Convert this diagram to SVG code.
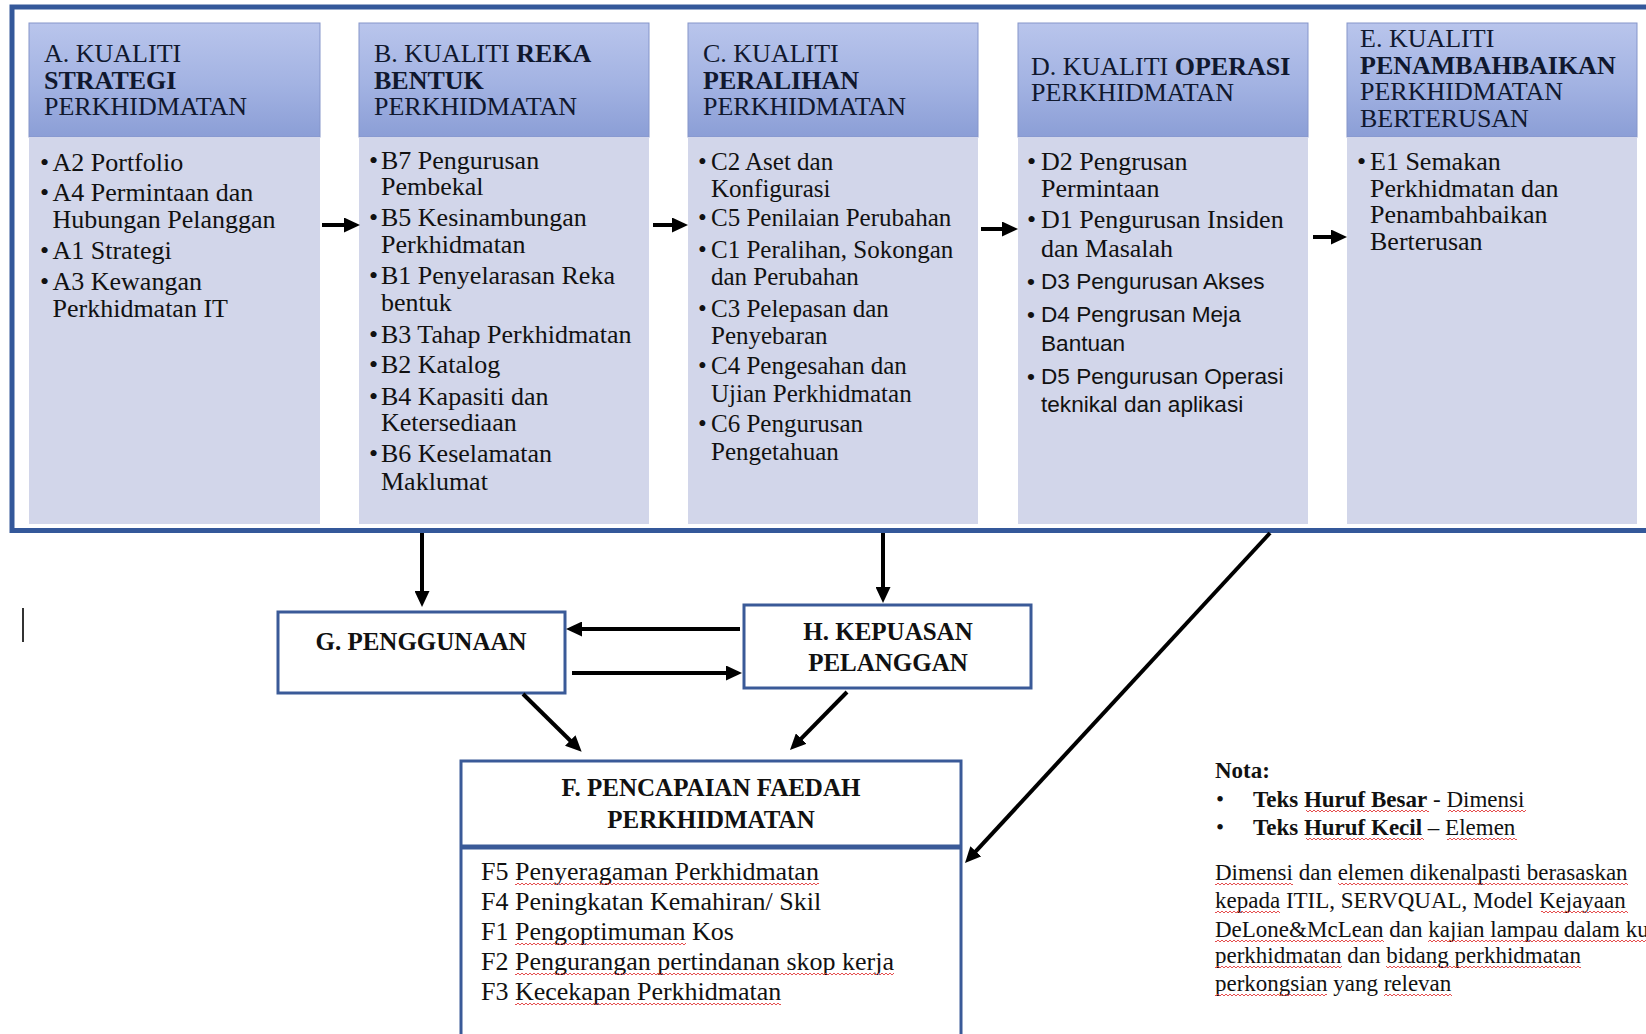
<svg xmlns="http://www.w3.org/2000/svg" width="1646" height="1034" viewBox="0 0 1646 1034">
<defs>
<linearGradient id="hg" x1="0" y1="0" x2="0" y2="1">
<stop offset="0" stop-color="#B9C5EC"/>
<stop offset="0.55" stop-color="#A2B2E2"/>
<stop offset="1" stop-color="#8B9ED6"/>
</linearGradient>
<pattern id="wavy" patternUnits="userSpaceOnUse" width="4" height="4">
<path d="M0,3 L2,1 L4,3" fill="none" stroke="#E23B3B" stroke-width="0.9"/>
</pattern>
<marker id="ah" markerUnits="userSpaceOnUse" markerWidth="16" markerHeight="15" refX="6" refY="7.5" orient="auto">
<path d="M0,0 L16,7.5 L0,15 z" fill="#000"/>
</marker>
<style>
.hdr{fill:url(#hg);stroke:#8595CA;stroke-width:1}
.bd{fill:#D2D6EA}
.t{font-family:"Liberation Serif","Times New Roman",serif;fill:#111}
.h{font-size:26px;fill:#10182E}
.b{font-size:26px}
.c{font-size:25px}
.s{font-family:"Liberation Sans",Arial,sans-serif;font-size:22.6px;fill:#111}
.bo{font-weight:bold}
.box{fill:#fff;stroke:#3A5A98;stroke-width:3}
.cn{stroke:#000;stroke-width:4;fill:none;marker-end:url(#ah)}
.bt{font-size:25px;font-weight:bold;text-anchor:middle}
.f{font-size:26px}
.n{font-size:23px}
.w{fill:url(#wavy)}
</style>
</defs>
<rect width="1646" height="1034" fill="#fff"/>

<g id="frame">
<rect x="12" y="7" width="1700" height="523.5" fill="#fff" stroke="#34589A" stroke-width="5"/>
</g>

<g id="node-a">
<rect class="hdr" x="29" y="23" width="291" height="114"/>
<rect class="bd" x="29" y="137" width="291" height="387"/>
<text class="t h" x="44" y="62">A. KUALITI</text>
<text class="t h bo" x="44" y="89">STRATEGI</text>
<text class="t h" x="44" y="115">PERKHIDMATAN</text>
<g class="t b">
<text x="40" y="171">•</text><text x="52.5" y="171">A2 Portfolio</text>
<text x="40" y="201">•</text><text x="52.5" y="201">A4 Permintaan dan</text>
<text x="52.5" y="228">Hubungan Pelanggan</text>
<text x="40" y="259">•</text><text x="52.5" y="259">A1 Strategi</text>
<text x="40" y="290">•</text><text x="52.5" y="290">A3 Kewangan</text>
<text x="52.5" y="317">Perkhidmatan IT</text>
</g>
</g>

<g id="node-b">
<rect class="hdr" x="359" y="23" width="290" height="114"/>
<rect class="bd" x="359" y="137" width="290" height="387"/>
<text class="t h" x="374" y="62">B. KUALITI <tspan class="bo">REKA</tspan></text>
<text class="t h bo" x="374" y="89">BENTUK</text>
<text class="t h" x="374" y="115">PERKHIDMATAN</text>
<g class="t b">
<text x="369" y="169">•</text><text x="381" y="169">B7 Pengurusan</text>
<text x="381" y="195">Pembekal</text>
<text x="369" y="226">•</text><text x="381" y="226">B5 Kesinambungan</text>
<text x="381" y="253">Perkhidmatan</text>
<text x="369" y="284">•</text><text x="381" y="284">B1 Penyelarasan Reka</text>
<text x="381" y="311">bentuk</text>
<text x="369" y="343">•</text><text x="381" y="343">B3 Tahap Perkhidmatan</text>
<text x="369" y="373">•</text><text x="381" y="373">B2 Katalog</text>
<text x="369" y="405">•</text><text x="381" y="405">B4 Kapasiti dan</text>
<text x="381" y="431">Ketersediaan</text>
<text x="369" y="462">•</text><text x="381" y="462">B6 Keselamatan</text>
<text x="381" y="490">Maklumat</text>
</g>
</g>

<g id="node-c">
<rect class="hdr" x="688" y="23" width="290" height="114"/>
<rect class="bd" x="688" y="137" width="290" height="387"/>
<text class="t h" x="703" y="62">C. KUALITI</text>
<text class="t h bo" x="703" y="89">PERALIHAN</text>
<text class="t h" x="703" y="115">PERKHIDMATAN</text>
<g class="t c">
<text x="698" y="170">•</text><text x="711" y="170">C2 Aset dan</text>
<text x="711" y="197">Konfigurasi</text>
<text x="698" y="226">•</text><text x="711" y="226">C5 Penilaian Perubahan</text>
<text x="698" y="258">•</text><text x="711" y="258">C1 Peralihan, Sokongan</text>
<text x="711" y="285">dan Perubahan</text>
<text x="698" y="317">•</text><text x="711" y="317">C3 Pelepasan dan</text>
<text x="711" y="344">Penyebaran</text>
<text x="698" y="374">•</text><text x="711" y="374">C4 Pengesahan dan</text>
<text x="711" y="402">Ujian Perkhidmatan</text>
<text x="698" y="432">•</text><text x="711" y="432">C6 Pengurusan</text>
<text x="711" y="460">Pengetahuan</text>
</g>
</g>

<g id="node-d">
<rect class="hdr" x="1018" y="23" width="290" height="114"/>
<rect class="bd" x="1018" y="137" width="290" height="387"/>
<text class="t h" x="1031" y="75">D. KUALITI <tspan class="bo">OPERASI</tspan></text>
<text class="t h" x="1031" y="101">PERKHIDMATAN</text>
<g class="t b">
<text x="1027" y="170">•</text><text x="1041" y="170">D2 Pengrusan</text>
<text x="1041" y="197">Permintaan</text>
<text x="1027" y="228">•</text><text x="1041" y="228">D1 Pengurusan Insiden</text>
<text x="1041" y="257">dan Masalah</text>
</g>
<g class="s">
<text x="1027" y="289">•</text><text x="1041" y="289">D3 Pengurusan Akses</text>
<text x="1027" y="322">•</text><text x="1041" y="322">D4 Pengrusan Meja</text>
<text x="1041" y="351">Bantuan</text>
<text x="1027" y="384">•</text><text x="1041" y="384">D5 Pengurusan Operasi</text>
<text x="1041" y="412">teknikal dan aplikasi</text>
</g>
</g>

<g id="node-e">
<rect class="hdr" x="1347" y="23" width="290" height="114"/>
<rect class="bd" x="1347" y="137" width="290" height="387"/>
<text class="t h" x="1360" y="47">E. KUALITI</text>
<text class="t h bo" x="1360" y="74">PENAMBAHBAIKAN</text>
<text class="t h" x="1360" y="100">PERKHIDMATAN</text>
<text class="t h" x="1360" y="127">BERTERUSAN</text>
<g class="t b">
<text x="1357" y="170">•</text><text x="1370" y="170">E1 Semakan</text>
<text x="1370" y="197">Perkhidmatan dan</text>
<text x="1370" y="223">Penambahbaikan</text>
<text x="1370" y="250">Berterusan</text>
</g>
</g>

<g id="node-g">
<rect class="box" x="278" y="612" width="287" height="81"/>
<text class="t bt" x="421" y="650">G. PENGGUNAAN</text>
</g>

<g id="node-h">
<rect class="box" x="744" y="605" width="287" height="83"/>
<text class="t bt" x="888" y="640">H. KEPUASAN</text>
<text class="t bt" x="888" y="671">PELANGGAN</text>
</g>

<g id="node-f">
<rect class="box" x="461" y="761" width="500" height="300"/>
<line x1="461" y1="847" x2="961" y2="847" stroke="#3A5A98" stroke-width="5"/>
<text class="t bt" x="711" y="796">F. PENCAPAIAN FAEDAH</text>
<text class="t bt" x="711" y="828">PERKHIDMATAN</text>
<g class="t f">
<text x="481" y="880">F5 Penyeragaman Perkhidmatan</text>
<text x="481" y="910">F4 Peningkatan Kemahiran/ Skil</text>
<text x="481" y="940">F1 Pengoptimuman Kos</text>
<text x="481" y="970">F2 Pengurangan pertindanan skop kerja</text>
<text x="481" y="1000">F3 Kecekapan Perkhidmatan</text>
</g>
<rect class="w" transform="translate(0,882)" x="515" y="0" width="304" height="4"/>
<rect class="w" transform="translate(0,942)" x="515" y="0" width="171" height="4"/>
<rect class="w" transform="translate(0,972)" x="515" y="0" width="379" height="4"/>
<rect class="w" transform="translate(0,1002)" x="515" y="0" width="266" height="4"/>
</g>

<g id="note">
<text class="t n bo" x="1215" y="778">Nota:</text>
<text class="t n" x="1216" y="807">•</text>
<text class="t n" x="1253" y="807"><tspan class="bo">Teks Huruf Besar</tspan> - Dimensi</text>
<text class="t n" x="1216" y="835">•</text>
<text class="t n" x="1253" y="835"><tspan class="bo">Teks Huruf Kecil</tspan> – Elemen</text>
<rect class="w" transform="translate(0,809)" x="1306" y="0" width="123" height="4"/>
<rect class="w" transform="translate(0,809)" x="1448" y="0" width="78" height="4"/>
<rect class="w" transform="translate(0,837)" x="1306" y="0" width="118" height="4"/>
<rect class="w" transform="translate(0,837)" x="1447" y="0" width="70" height="4"/>
<g class="t n">
<text x="1215" y="880">Dimensi dan elemen dikenalpasti berasaskan</text>
<text x="1215" y="908">kepada ITIL, SERVQUAL, Model Kejayaan</text>
<text x="1215" y="937">DeLone&amp;McLean dan kajian lampau dalam ku</text>
<text x="1215" y="963">perkhidmatan dan bidang perkhidmatan</text>
<text x="1215" y="991">perkongsian yang relevan</text>
</g>
<rect class="w" transform="translate(0,882)" x="1215" y="0" width="78" height="4"/>
<rect class="w" transform="translate(0,882)" x="1338" y="0" width="290" height="4"/>
<rect class="w" transform="translate(0,910)" x="1215" y="0" width="65" height="4"/>
<rect class="w" transform="translate(0,910)" x="1541" y="0" width="87" height="4"/>
<rect class="w" transform="translate(0,939)" x="1215" y="0" width="169" height="4"/>
<rect class="w" transform="translate(0,939)" x="1428" y="0" width="218" height="4"/>
<rect class="w" transform="translate(0,965)" x="1215" y="0" width="127" height="4"/>
<rect class="w" transform="translate(0,965)" x="1386" y="0" width="195" height="4"/>
<rect class="w" transform="translate(0,993)" x="1215" y="0" width="112" height="4"/>
<rect class="w" transform="translate(0,993)" x="1384" y="0" width="68" height="4"/>
</g>

<g id="cursor">
<line x1="23" y1="608" x2="23" y2="642" stroke="#333" stroke-width="2"/>
</g>

<g id="connectors">
<line class="cn" x1="322" y1="225" x2="350" y2="225"/>
<line class="cn" x1="653" y1="225" x2="678" y2="225"/>
<line class="cn" x1="981" y1="229" x2="1008" y2="229"/>
<line class="cn" x1="1313" y1="237" x2="1337" y2="237"/>
<line class="cn" x1="422" y1="533" x2="422" y2="597"/>
<line class="cn" x1="883" y1="533" x2="883" y2="593"/>
<line class="cn" x1="740" y1="629" x2="576" y2="629"/>
<line class="cn" x1="572" y1="673" x2="732" y2="673"/>
<line class="cn" x1="523" y1="694" x2="574.5" y2="744.7"/>
<line class="cn" x1="847" y1="692" x2="797" y2="742.9"/>
<line class="cn" x1="1270" y1="533" x2="971.8" y2="855.7"/>
</g>
</svg>
